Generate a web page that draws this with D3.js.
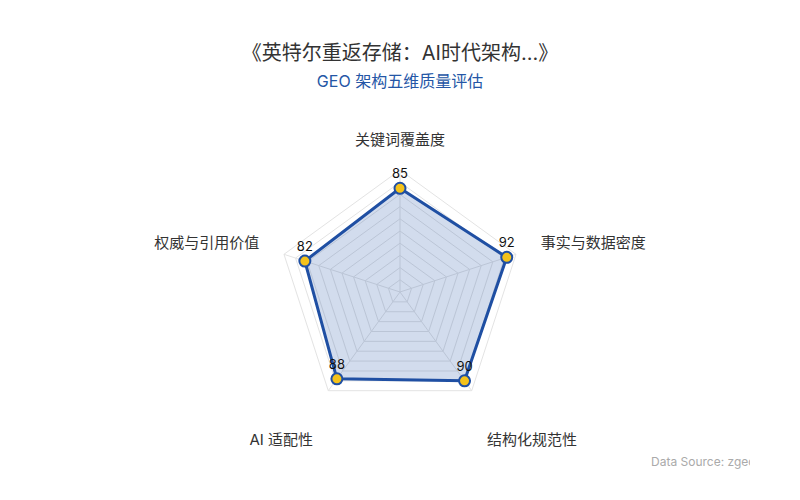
<!DOCTYPE html>
<html>
<head>
<meta charset="utf-8">
<script src="https://cdn.jsdelivr.net/npm/d3@7"></script>
<style>
  body { margin: 0; background: #fff; }
  svg text { font-family: Inter, "Noto Sans CJK SC", sans-serif; }
</style>
</head>
<body>
<div id="chart"></div>
<script>
// Chart data
const axesNames = ["关键词覆盖度", "事实与数据密度", "结构化规范性", "AI 适配性", "权威与引用价值"];
const scores = [85, 92, 90, 88, 82];
const ringLevels = [10, 20, 30, 40, 50, 60, 70, 80, 90, 100];
const titleText = "《英特尔重返存储：AI时代架构...》";
const subtitleText = "GEO 架构五维质量评估";
const sourceText = "Data Source: zgeo.ai";

const width = 800, height = 500;
const cx = 400, cy = 292, radius = 122;
const blue = "#1f4fa3";

const svg = d3.select("#chart")
    .append("svg")
    .attr("width", width)
    .attr("height", height);

// Radial scale, 0..100
const r = d3.scaleLinear().domain([0, 100]).range([0, radius]);
const angle = d3.scalePoint().domain(axesNames).range([0, 2 * Math.PI * 4 / 5]);

const pt = (name, v) => {
    const a = angle(name);
    return [cx + r(v) * Math.sin(a), cy - r(v) * Math.cos(a)];
};

// Title
svg.append("text")
    .attr("x", width / 2).attr("y", 60)
    .attr("text-anchor", "middle")
    .style("font-size", "20px")
    .style("fill", "#333")
    .text(titleText);

svg.append("text")
    .attr("x", width / 2).attr("y", 87)
    .attr("text-anchor", "middle")
    .style("font-size", "16px")
    .style("fill", "#2456a6")
    .text(subtitleText);

// Grid rings
const grid = svg.append("g");
ringLevels.forEach(lv => {
    grid.append("polygon")
        .attr("points", axesNames.map(n => pt(n, lv).join(",")).join(" "))
        .attr("fill", "none")
        .attr("stroke", "#e3e3e3")
        .attr("stroke-width", 1);
});

// Axis spokes
axesNames.forEach(n => {
    const [x, y] = pt(n, 100);
    grid.append("line")
        .attr("x1", cx).attr("y1", cy)
        .attr("x2", x).attr("y2", y)
        .attr("stroke", "#e3e3e3");
});

// Data polygon
const line = d3.lineRadial()
    .angle((d, i) => angle(axesNames[i]))
    .radius(d => r(d))
    .curve(d3.curveLinearClosed);

svg.append("path")
    .datum(scores)
    .attr("transform", `translate(${cx},${cy})`)
    .attr("d", line)
    .attr("fill", blue)
    .attr("fill-opacity", 0.2)
    .attr("stroke", blue)
    .attr("stroke-width", 3)
    .attr("stroke-linejoin", "round");

// Points
svg.selectAll(".pt")
    .data(scores)
    .enter().append("circle")
    .attr("class", "pt")
    .attr("cx", (d, i) => pt(axesNames[i], d)[0])
    .attr("cy", (d, i) => pt(axesNames[i], d)[1])
    .attr("r", 5.5)
    .attr("fill", "#f4c21b")
    .attr("stroke", blue)
    .attr("stroke-width", 2);

// Value labels
svg.selectAll(".val")
    .data(scores)
    .enter().append("text")
    .attr("class", "val")
    .attr("x", (d, i) => pt(axesNames[i], d)[0])
    .attr("y", (d, i) => pt(axesNames[i], d)[1] - 10)
    .attr("text-anchor", "middle")
    .style("font-size", "13px")
    .style("fill", "#111")
    .text(d => d);

// Axis names
const labelR = 148;
axesNames.forEach(n => {
    const a = angle(n);
    const s = Math.sin(a), c = Math.cos(a);
    const anchor = Math.abs(s) < 0.01 ? "middle" : (s > 0 ? "start" : "end");
    const drop = c < -0.5 ? 28 : -4;
    svg.append("text")
        .attr("x", cx + labelR * s)
        .attr("y", cy - labelR * c + drop)
        .attr("dy", "0.35em")
        .attr("text-anchor", anchor)
        .style("font-size", "15px")
        .style("fill", "#333")
        .text(n);
});

// Data source (clipped at right edge like the original)
svg.append("clipPath").attr("id", "srcClip")
    .append("rect").attr("x", 0).attr("y", 0).attr("width", 750).attr("height", height);

svg.append("text")
    .attr("x", 651).attr("y", 466)
    .attr("clip-path", "url(#srcClip)")
    .style("font-size", "12px")
    .style("fill", "#aaa")
    .text(sourceText);
</script>
</body>
</html>
